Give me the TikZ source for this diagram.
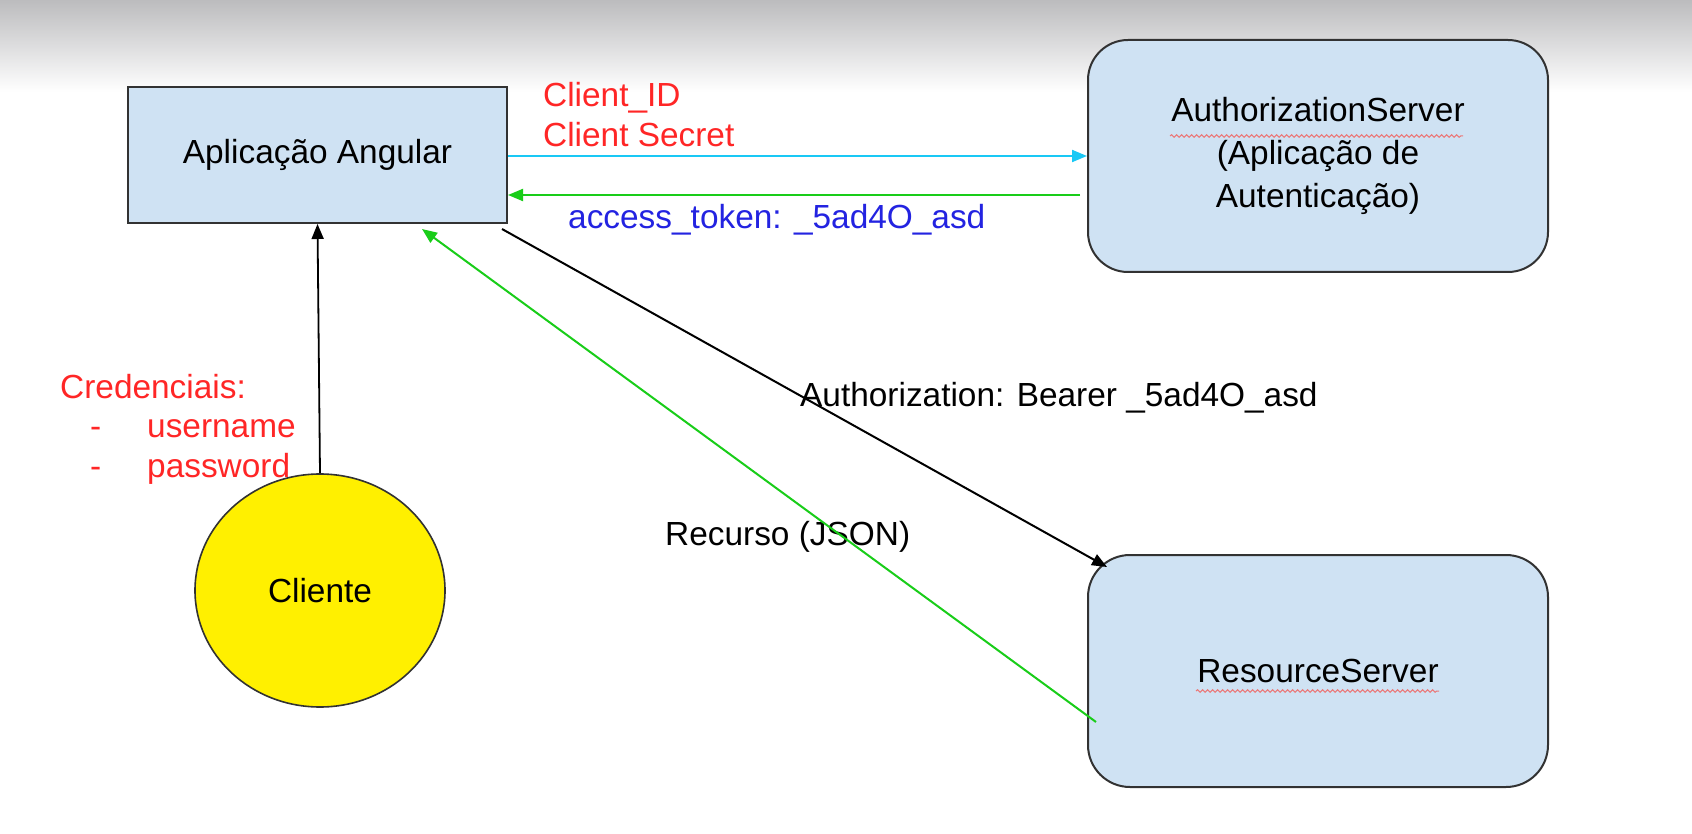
\documentclass[tikz,border=0pt]{standalone}
\usepackage{fontspec}
\setmainfont{Liberation Sans}
\usetikzlibrary{arrows.meta,shapes.geometric,decorations.pathmorphing}
\definecolor{boxline}{RGB}{50,50,50}
\definecolor{boxblue}{RGB}{207,226,243}
\definecolor{cyellow}{RGB}{255,240,0}
\definecolor{cred}{RGB}{255,38,38}
\definecolor{tblue}{RGB}{35,35,225}
\definecolor{ccyan}{RGB}{25,200,245}
\definecolor{cgreen}{RGB}{25,205,25}
\definecolor{squig}{RGB}{235,120,120}
\definecolor{shadetop}{RGB}{188,188,190}
\definecolor{shademid}{RGB}{238,238,239}
\begin{document}
\begin{tikzpicture}[x=1pt,y=-1pt,
  txt/.style={font=\fontsize{33.4}{43}\selectfont, inner sep=0pt},
  box/.style={draw=boxline, line width=2pt, fill=boxblue, inner sep=0pt, txt},
  conn/.style={line width=2pt, -{Triangle[length=15pt,width=12pt]}},
  squiggle/.style={draw=squig, line width=1pt, decorate,
    decoration={snake,amplitude=1.3pt,segment length=5pt}}]

\useasboundingbox (0,0) rectangle (1692,834);
\fill[white] (0,0) rectangle (1692,834);
\shade[top color=shadetop, middle color=shademid, bottom color=white] (0,0) rectangle (1692,92);

% nodes
\node[box, rectangle, minimum width=379pt, minimum height=136pt] (ang) at (317.5,155) {Aplicação Angular};
\node[box, rectangle, rounded corners=40pt, minimum width=460pt, minimum height=232pt, align=center] (auth) at (1318,156) {AuthorizationServer\\(Aplicação de\\Autenticação)};
\node[box, rectangle, rounded corners=42pt, minimum width=460pt, minimum height=232pt] (res) at (1318,671) {ResourceServer};
\node[ellipse, draw=boxline, fill=cyellow, line width=1.6pt, minimum width=250pt, minimum height=233pt, txt] (cli) at (320,590.5) {Cliente};

% spell-check underlines
\draw[squiggle] (1170,136) -- (1463,136);
\draw[squiggle] (1196,691) -- (1439,691);

% labels
\node[txt, text=cred, anchor=base west] (cid) at (543,107) {Client\_ID};
\node[txt, text=cred, anchor=base west] (csec) at (543,147) {Client Secret};
\node[txt, text=tblue, anchor=base west] (tok) at (568,229) {access\_token: \_5ad4O\_asd};
\node[txt, anchor=base west] (bear) at (800,406) {Authorization: Bearer \_5ad4O\_asd};
\node[txt, anchor=base west] (recj) at (665,545) {Recurso (JSON)};
\node[txt, text=cred, anchor=base west] (cred) at (60,398) {Credenciais:};
\node[txt, text=cred, anchor=base west] (d1) at (90,437) {-};
\node[txt, text=cred, anchor=base west] (u1) at (147,437) {username};
\node[txt, text=cred, anchor=base west] (d2) at (90,477) {-};
\node[txt, text=cred, anchor=base west] (u2) at (147,477) {password};

% connectors
\coordinate (bs) at (502,229);
\coordinate (be) at (1107,567);
\coordinate (gs) at (1096,722);
\coordinate (ge) at (422,229);
\draw[conn, draw=ccyan] (ang.east |- 0,156) -- (auth.west |- 0,156);
\draw[conn, draw=cgreen, shorten <=7pt] (auth.west |- 0,195) -- (ang.east |- 0,195);
\draw[conn, draw=black, line width=1.8pt] (cli.north) -- (ang.south);
\draw[conn, draw=black] (bs) -- (be);
\draw[conn, draw=cgreen] (gs) -- (ge);
\end{tikzpicture}
\end{document}
